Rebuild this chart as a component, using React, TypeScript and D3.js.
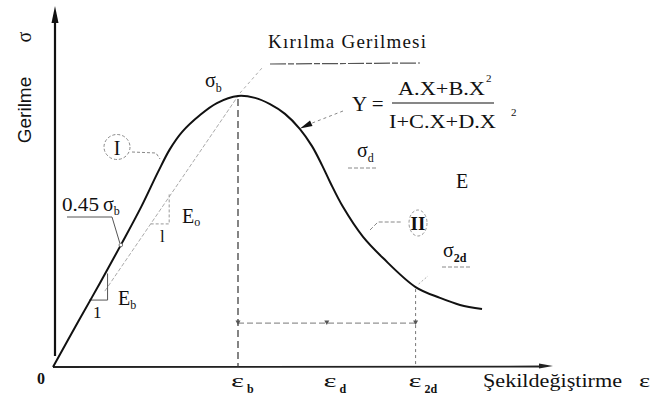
import React from "react";
import * as d3 from "d3";

// Stress–strain curve: strain (ε / ε_b) and stress (σ / σ_b)
const strain = [0, 0.135, 0.254, 0.373, 0.476, 0.568, 0.632, 0.697, 0.795, 0.886, 1.0, 1.092, 1.173, 1.254, 1.335, 1.4, 1.454, 1.5, 1.568, 1.676, 1.784, 1.96, 2.092, 2.2, 2.319];
const stress = [0, 0.166, 0.31, 0.458, 0.59, 0.72, 0.804, 0.867, 0.93, 0.974, 1.0, 0.993, 0.97, 0.934, 0.878, 0.815, 0.745, 0.679, 0.59, 0.48, 0.402, 0.295, 0.255, 0.229, 0.214];

// Strain axis markers
const tickValues = [1.0, 1.5, 1.96];
const tickSymbols = ["ε", "ε", "ε"];
const tickSubs = ["b", "d", "2d"];

// Characteristic stresses
const sigmaB = 1.0;
const sigma2D = 0.295;
const ratio045 = 0.45;
const dimensionLevel = 0.162;

const SERIF = "'Liberation Serif', 'Times New Roman', serif";
const SANS = "'Liberation Sans', Arial, sans-serif";

export default function App() {
  const W = 665;
  const H = 398;
  const x = d3.scaleLinear().domain([0, 1]).range([53, 238]);
  const y = d3.scaleLinear().domain([0, 1]).range([367, 96]);

  const pts: [number, number][] = strain.map((s, i) => [s, stress[i]]);
  const line = d3
    .line<[number, number]>()
    .x((d) => x(d[0]))
    .y((d) => y(d[1]))
    .curve(d3.curveCatmullRom.alpha(0.5));

  // strain at which the rising branch reaches 0.45 σ_b
  const peakIdx = stress.indexOf(sigmaB);
  const riseIdx = d3.bisectLeft(stress.slice(0, peakIdx + 1), ratio045 * sigmaB);
  const s0 = strain[riseIdx - 1], s1 = strain[riseIdx];
  const t0 = stress[riseIdx - 1], t1 = stress[riseIdx];
  const e045 = s0 + ((ratio045 * sigmaB - t0) / (t1 - t0)) * (s1 - s0);

  const epsB = tickValues[0];
  const epsD = tickValues[1];
  const eps2D = tickValues[2];

  const x0 = x(0);
  const yBase = y(0);

  // secant E_o (origin → peak) and the unit triangles
  const secStart = 0.28;
  const eoStart = 0.528;
  const ebStart = 0.195;

  const dimY = y(dimensionLevel);

  const downMark = (cx: number, cy: number) =>
    `${cx - 2.5},${cy - 2.5} ${cx + 2.5},${cy - 2.5} ${cx},${cy + 2}`;

  return (
    <svg
      width={W}
      height={H}
      viewBox={`0 0 ${W} ${H}`}
      style={{ position: "absolute", left: 0, top: 0, background: "#fff" }}
    >
      <rect x={0} y={0} width={W} height={H} fill="#fff" />

      {/* axes */}
      <line x1={x0 + 2} y1={356} x2={x0 + 2} y2={20} stroke="#111" strokeWidth={2.2} />
      <polygon points={`${x0 + 2},6 ${x0 - 1.5},23 ${x0 + 5.5},23`} fill="#111" />
      <line x1={x0} y1={yBase} x2={541} y2={yBase - 0.5} stroke="#222" strokeWidth={1.8} />
      <polygon points={`553,366 539,363.5 539,368.5`} fill="#222" />

      {/* secant line to the peak and leader to "Kırılma Gerilmesi" */}
      <line
        x1={x(secStart)} y1={y(secStart)} x2={x(epsB)} y2={y(sigmaB)}
        stroke="#aaa" strokeWidth={1} strokeDasharray="4,2"
      />
      <line
        x1={x(epsB) + 2} y1={y(sigmaB) - 3} x2={262} y2={68}
        stroke="#aaa" strokeWidth={1} strokeDasharray="3,3"
      />
      <line x1={270} y1={64} x2={420} y2={63} stroke="#555" strokeWidth={1.2} strokeDasharray="16,2,6,2" />

      {/* ε_b vertical */}
      <line
        x1={x(epsB)} y1={y(sigmaB) + 3} x2={x(epsB)} y2={yBase}
        stroke="#333" strokeWidth={1.2} strokeDasharray="7,4"
      />
      {/* ε_2d vertical */}
      <line
        x1={x(eps2D)} y1={y(sigma2D) + 2} x2={x(eps2D)} y2={yBase}
        stroke="#777" strokeWidth={1} strokeDasharray="3,3"
      />
      {/* dimension line between ε_b and ε_2d */}
      <line
        x1={x(epsB)} y1={dimY} x2={x(eps2D)} y2={dimY}
        stroke="#777" strokeWidth={1} strokeDasharray="6,3"
      />
      {[epsB, epsD - 0.02, eps2D].map((e, i) => (
        <polygon key={i} points={downMark(x(e), dimY)} fill="#555" />
      ))}

      {/* unit triangle E_b on the rising branch */}
      <polyline
        points={`${x(ebStart)},${y(0.247)} ${x(ebStart + 0.1)},${y(0.247)} ${x(ebStart + 0.1)},${y(0.345)}`}
        fill="none" stroke="#555" strokeWidth={1}
      />
      {/* unit triangle E_o on the secant */}
      <polyline
        points={`${x(eoStart)},${y(eoStart)} ${x(eoStart + 0.1)},${y(eoStart)} ${x(eoStart + 0.1)},${y(eoStart + 0.11)}`}
        fill="none" stroke="#999" strokeWidth={1} strokeDasharray="3,2"
      />

      {/* main curve */}
      <path d={line(pts) ?? ""} fill="none" stroke="#111" strokeWidth={2} strokeLinejoin="round" />

      {/* 0.45 σ_b marker */}
      <polyline
        points={`67,217 112,217 ${x(e045) - 1},${y(ratio045 * sigmaB) - 2}`}
        fill="none" stroke="#555" strokeWidth={1}
      />
      <circle cx={x(e045)} cy={y(ratio045 * sigmaB)} r={1.8} fill="#fff" stroke="#555" strokeWidth={0.8} />
      <text x={62} y={211} fontFamily={SERIF} fontSize={19} fill="#111" textLength={37} lengthAdjust="spacingAndGlyphs">
        0.45
      </text>
      <text x={103} y={211} fontFamily={SERIF} fontSize={20} fill="#111">
        σ<tspan fontSize={12} dy={4}>b</tspan>
      </text>

      {/* region I */}
      <ellipse cx={117} cy={147} rx={13} ry={12.5} fill="none" stroke="#888" strokeWidth={1} strokeDasharray="3,2" />
      <text x={117} y={155} textAnchor="middle" fontFamily={SERIF} fontSize={20} fill="#111">I</text>
      <polyline points="132,152 156,153 160,159" fill="none" stroke="#888" strokeWidth={1} strokeDasharray="3,2" />

      {/* region II */}
      <ellipse cx={418} cy={223} rx={9} ry={13} fill="none" stroke="#999" strokeWidth={1} strokeDasharray="3,2" />
      <text x={418} y={230} textAnchor="middle" fontFamily={SERIF} fontSize={19} fontWeight="bold" fill="#111">II</text>
      <polyline points="370,230 378,222 402,222" fill="none" stroke="#888" strokeWidth={1} strokeDasharray="4,2" />

      {/* E_b and E_o labels */}
      <text x={118} y={305} fontFamily={SERIF} fontSize={20} fill="#111">
        E<tspan fontSize={12} dy={4}>b</tspan>
      </text>
      <text x={93} y={318} fontFamily={SERIF} fontSize={17} fill="#111">1</text>
      <text x={182} y={223} fontFamily={SERIF} fontSize={20} fill="#111">
        E<tspan fontSize={12} dy={3}>o</tspan>
      </text>
      <text x={160} y={242} fontFamily={SERIF} fontSize={17} fill="#111">l</text>

      {/* peak label */}
      <text x={205} y={87} fontFamily={SERIF} fontSize={20} fill="#111">
        σ<tspan fontSize={12} dy={5}>b</tspan>
      </text>
      <text x={268} y={48} fontFamily={SERIF} fontSize={19} fill="#111" textLength={158}>
        Kırılma Gerilmesi
      </text>

      {/* fitted relation */}
      <line x1={343} y1={111} x2={311} y2={123.5} stroke="#888" strokeWidth={1} strokeDasharray="3,3" />
      <polygon points="300,128.5 310,120.5 312.5,126" fill="#111" />
      <text x={352} y={111} fontFamily={SERIF} fontSize={21} fill="#111">Y =</text>
      <text x={398} y={95} fontFamily={SERIF} fontSize={19} fill="#111" textLength={87} lengthAdjust="spacingAndGlyphs">
        A.X+B.X
      </text>
      <text x={486} y={82} fontFamily={SERIF} fontSize={11} fill="#111">2</text>
      <line x1={392} y1={103} x2={494} y2={103} stroke="#111" strokeWidth={1.1} />
      <text x={389} y={128} fontFamily={SERIF} fontSize={19} fill="#111" textLength={107} lengthAdjust="spacingAndGlyphs">
        I+C.X+D.X
      </text>
      <text x={511} y={116} fontFamily={SERIF} fontSize={11} fill="#111">2</text>

      {/* σ_d */}
      <text x={357} y={157} fontFamily={SERIF} fontSize={20} fill="#111">
        σ<tspan fontSize={12} dy={5}>d</tspan>
      </text>
      <line x1={348} y1={168} x2={378} y2={168} stroke="#888" strokeWidth={1} strokeDasharray="4,2" />

      {/* E */}
      <text x={456} y={188} fontFamily={SERIF} fontSize={20} fill="#111">E</text>

      {/* σ_2d */}
      <text x={443} y={257} fontFamily={SERIF} fontSize={20} fill="#111">
        σ<tspan fontSize={12} dy={5} fontWeight="bold">2d</tspan>
      </text>
      <line x1={442} y1={267} x2={472} y2={267} stroke="#888" strokeWidth={1} strokeDasharray="4,2" />
      <line x1={x(eps2D) + 3} y1={y(sigma2D) - 3} x2={428} y2={276} stroke="#aaa" strokeWidth={1} strokeDasharray="2,2" />

      {/* axis titles */}
      <text transform="translate(31,110) rotate(-90)" textAnchor="middle" fontFamily={SANS} fontSize={19} fill="#111">
        Gerilme
      </text>
      <text transform="translate(31,37) rotate(-90)" textAnchor="middle" fontFamily={SERIF} fontSize={20} fill="#111">
        σ
      </text>
      <text x={37} y={384} fontFamily={SERIF} fontSize={16} fontWeight="bold" fill="#111">0</text>
      <text x={483} y={387} fontFamily={SERIF} fontSize={19} fill="#111" textLength={139} lengthAdjust="spacingAndGlyphs">
        Şekildeğiştirme
      </text>
      <text x={639} y={387} fontFamily={SERIF} fontSize={19} fill="#111" textLength={11} lengthAdjust="spacingAndGlyphs">ε</text>

      {/* strain markers */}
      {tickValues.map((v, i) => (
        <g key={i}>
          <text x={x(v) - 7} y={387} fontFamily={SERIF} fontSize={19} fill="#111" textLength={13} lengthAdjust="spacingAndGlyphs">
            {tickSymbols[i]}
          </text>
          <text x={x(v) + 9} y={393} fontFamily={SERIF} fontSize={12} fontWeight="bold" fill="#111">
            {tickSubs[i]}
          </text>
        </g>
      ))}
    </svg>
  );
}
